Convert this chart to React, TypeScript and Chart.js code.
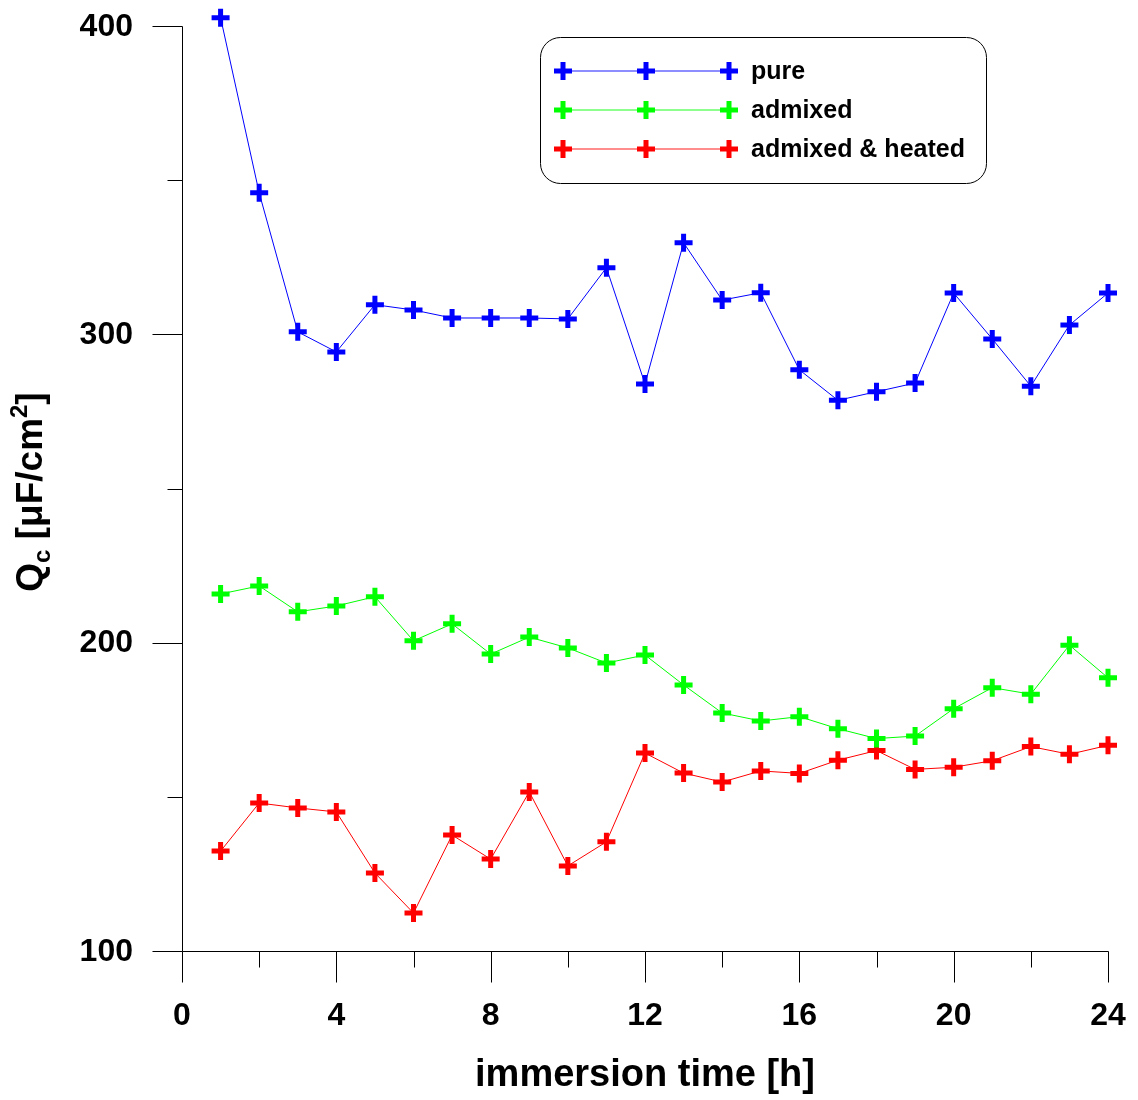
import React, { useEffect, useRef } from 'react';
import { Chart, registerables } from 'chart.js';

Chart.register(...registerables);

const hours = [1, 2, 3, 4, 5, 6, 7, 8, 9, 10, 11, 12, 13, 14, 15, 16, 17, 18, 19, 20, 21, 22, 23, 24];
const pureValues = [402.7, 345.9, 300.8, 294.3, 309.6, 307.9, 305.3, 305.3, 305.3, 305.0, 321.6, 283.9, 329.7, 311.1, 313.5, 288.5, 278.6, 281.4, 284.2, 313.4, 298.5, 283.2, 303.0, 313.4];
const admixedValues = [215.8, 218.4, 210.0, 211.9, 214.9, 200.6, 206.1, 196.3, 201.8, 198.3, 193.4, 196.0, 186.3, 177.2, 174.6, 176.0, 172.1, 168.9, 169.7, 178.6, 185.4, 183.3, 199.2, 188.6];
const heatedValues = [132.4, 148.0, 146.4, 145.1, 125.3, 112.3, 137.6, 129.8, 151.6, 127.6, 135.4, 164.2, 157.7, 154.8, 158.4, 157.6, 161.9, 165.0, 158.9, 159.6, 161.7, 166.3, 163.8, 166.7];

const seriesNames = ['pure', 'admixed', 'admixed & heated'];
const seriesColors = ['#0000ff', '#00ff00', '#ff0000'];

const xMajorTicks = [0, 4, 8, 12, 16, 20, 24];
const xMinorTicks = [2, 6, 10, 14, 18, 22];
const yMajorTicks = [100, 200, 300, 400];
const yMinorTicks = [150, 250, 350];

const xTitle = 'immersion time [h]';

const FONT = '"Liberation Sans", Arial, Helvetica, sans-serif';

function drawCross(ctx: CanvasRenderingContext2D, x: number, y: number, r: number, color: string) {
  ctx.save();
  ctx.strokeStyle = color;
  ctx.lineWidth = 5;
  ctx.beginPath();
  ctx.moveTo(x - r, y);
  ctx.lineTo(x + r, y);
  ctx.moveTo(x, y - r);
  ctx.lineTo(x, y + r);
  ctx.stroke();
  ctx.restore();
}

const axesPlugin = {
  id: 'customAxes',
  afterDraw(chart: any) {
    const ctx: CanvasRenderingContext2D = chart.ctx;
    const xs = chart.scales.x;
    const ys = chart.scales.y;
    const x0 = Math.round(xs.getPixelForValue(0)) + 0.5;
    const xEnd = Math.round(xs.getPixelForValue(24)) + 0.5;
    const yBottom = Math.round(ys.getPixelForValue(100)) + 0.5;
    const yTop = Math.round(ys.getPixelForValue(400)) + 0.5;
    ctx.save();
    ctx.strokeStyle = '#000';
    ctx.lineWidth = 1;
    ctx.beginPath();
    ctx.moveTo(x0, yTop);
    ctx.lineTo(x0, yBottom);
    ctx.moveTo(x0, yBottom);
    ctx.lineTo(xEnd, yBottom);
    yMajorTicks.forEach((v) => {
      const p = Math.round(ys.getPixelForValue(v)) + 0.5;
      ctx.moveTo(x0 - 30, p);
      ctx.lineTo(x0, p);
    });
    yMinorTicks.forEach((v) => {
      const p = Math.round(ys.getPixelForValue(v)) + 0.5;
      ctx.moveTo(x0 - 15, p);
      ctx.lineTo(x0, p);
    });
    xMajorTicks.forEach((v) => {
      const p = Math.round(xs.getPixelForValue(v)) + 0.5;
      ctx.moveTo(p, yBottom);
      ctx.lineTo(p, yBottom + 31);
    });
    xMinorTicks.forEach((v) => {
      const p = Math.round(xs.getPixelForValue(v)) + 0.5;
      ctx.moveTo(p, yBottom);
      ctx.lineTo(p, yBottom + 16);
    });
    ctx.stroke();

    // Y axis title with subscript / superscript
    const big = 'bold 37px ' + FONT;
    const small = 'bold 24px ' + FONT;
    const parts = [
      { t: 'Q', f: big, dy: 0 },
      { t: 'c', f: small, dy: 8 },
      { t: ' [\u03BCF/cm', f: big, dy: 0 },
      { t: '2', f: small, dy: -15 },
      { t: ']', f: big, dy: 0 },
    ];
    let total = 0;
    parts.forEach((p) => {
      ctx.font = p.f;
      total += ctx.measureText(p.t).width;
    });
    ctx.translate(42, 492);
    ctx.rotate(-Math.PI / 2);
    ctx.fillStyle = '#000';
    ctx.textBaseline = 'alphabetic';
    ctx.textAlign = 'left';
    let cx = -total / 2;
    parts.forEach((p) => {
      ctx.font = p.f;
      ctx.fillText(p.t, cx, p.dy);
      cx += ctx.measureText(p.t).width;
    });
    ctx.restore();

    // Legend
    ctx.save();
    ctx.strokeStyle = '#000';
    ctx.lineWidth = 1;
    ctx.beginPath();
    (ctx as any).roundRect(540.5, 37.5, 446, 146, 20);
    ctx.stroke();
    const rows = [71, 110, 149];
    const mx = [563, 646, 729];
    seriesNames.forEach((name, i) => {
      const y = rows[i];
      const color = seriesColors[i];
      ctx.strokeStyle = color;
      ctx.globalAlpha = 0.6;
      ctx.lineWidth = 1.5;
      ctx.beginPath();
      ctx.moveTo(mx[0], y);
      ctx.lineTo(mx[2], y);
      ctx.stroke();
      ctx.globalAlpha = 1;
      mx.forEach((x) => drawCross(ctx, x, y, 9, color));
      ctx.fillStyle = '#000';
      ctx.font = 'bold 25px ' + FONT;
      ctx.textBaseline = 'middle';
      ctx.textAlign = 'left';
      ctx.fillText(name, 751, y + 1);
    });
    ctx.restore();
  },
};

export default function App() {
  const canvasRef = useRef<HTMLCanvasElement | null>(null);

  useEffect(() => {
    if (!canvasRef.current) return;
    const allSeries = [pureValues, admixedValues, heatedValues];
    const chart = new Chart(canvasRef.current, {
      type: 'line',
      data: {
        datasets: allSeries.map((vals, i) => ({
          label: seriesNames[i],
          data: hours.map((h, j) => ({ x: h, y: vals[j] })),
          borderColor: seriesColors[i],
          backgroundColor: seriesColors[i],
          borderWidth: 1,
          pointStyle: 'cross',
          pointRadius: 9,
          pointBorderWidth: 5,
          pointBorderColor: seriesColors[i],
          pointBackgroundColor: seriesColors[i],
          tension: 0,
          fill: false,
          clip: false as any,
        })),
      },
      options: {
        animation: false,
        responsive: false,
        devicePixelRatio: 1,
        layout: { autoPadding: false, padding: { left: 0, right: 30, top: 26, bottom: 0 } },
        plugins: {
          legend: { display: false },
          tooltip: { enabled: false },
        },
        scales: {
          x: {
            type: 'linear',
            min: 0,
            max: 24,
            grid: { display: false, drawTicks: false },
            border: { display: false },
            ticks: {
              stepSize: 4,
              color: '#000',
              font: { family: FONT, size: 32, weight: 'bold' },
              padding: 46,
              maxRotation: 0,
            },
            title: {
              display: true,
              text: xTitle,
              color: '#000',
              font: { family: FONT, size: 38, weight: 'bold' },
              padding: { top: 0, bottom: 2 },
            },
            afterFit: (scale: any) => {
              scale.height = 149;
              scale.paddingLeft = 0;
              scale.paddingRight = 0;
              scale.paddingTop = 0;
              scale.paddingBottom = 0;
            },
          },
          y: {
            type: 'linear',
            min: 100,
            max: 400,
            grid: { display: false, drawTicks: false },
            border: { display: false },
            ticks: {
              stepSize: 100,
              color: '#000',
              font: { family: FONT, size: 32, weight: 'bold' },
              padding: 49,
              labelOffset: 1,
            },
            afterFit: (scale: any) => {
              scale.width = 182;
              scale.paddingLeft = 0;
              scale.paddingRight = 0;
              scale.paddingTop = 0;
              scale.paddingBottom = 0;
            },
          },
        },
      },
      plugins: [axesPlugin],
    });
    return () => chart.destroy();
  }, []);

  return (
    <div style={{ position: 'absolute', left: 0, top: 0, width: 1138, height: 1100, background: '#fff' }}>
      <canvas ref={canvasRef} width={1138} height={1100} style={{ width: 1138, height: 1100 }} />
    </div>
  );
}
